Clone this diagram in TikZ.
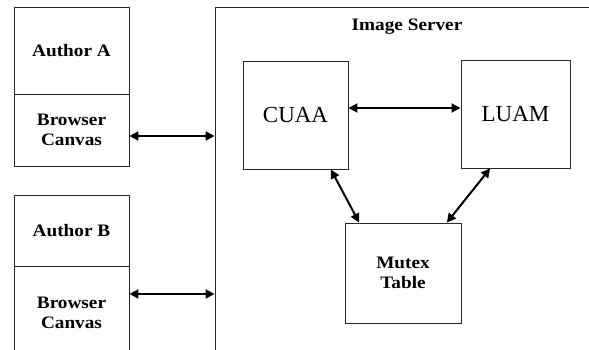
\documentclass[tikz,border=0pt]{standalone}
\usepackage{fontspec}
\setmainfont{Liberation Serif}
\newfontfamily\labfont[FakeStretch=1.1]{Liberation Serif}
\usetikzlibrary{arrows.meta}
\begin{document}
\begin{tikzpicture}[x=1pt,y=-1pt,
  box/.style={draw=black!85, line width=0.9pt, rectangle, inner sep=0pt, align=center},
  lab/.style={font=\labfont\bfseries\fontsize{17.5}{20}\selectfont, align=center},
  big/.style={font=\fontsize{23}{25}\selectfont},
  link/.style={line width=2pt, {Triangle[length=9pt,width=9pt]}-{Triangle[length=9pt,width=9pt]}}]
\useasboundingbox (0,0) rectangle (589,350);
\clip (0,0) rectangle (589,350);
% server
\node[box, minimum width=485pt, minimum height=443pt] (server) at (457.5,228.5) {};
\node[lab] (title) at (407,27) {Image Server};
% authors
\node[box, lab, minimum width=115pt, minimum height=87pt] (authorA) at (71.5,50.5) {Author A};
\node[box, lab, minimum width=115pt, minimum height=72pt] (canvasA) at (71.5,130) {Browser\\Canvas};
\node[box, lab, minimum width=115pt, minimum height=71pt] (authorB) at (71.5,230.5) {Author B};
\node[box, lab, minimum width=115pt, minimum height=94pt] (canvasB) at (71.5,313) {Browser\\Canvas};
% server components
\node[box, big, minimum width=105pt, minimum height=108pt] (CUAA) at (295.5,115) {CUAA};
\node[box, big, minimum width=109pt, minimum height=108pt] (LUAM) at (515.5,114) {LUAM};
\node[box, lab, minimum width=116pt, minimum height=100pt] (mutex) at (403,273) {Mutex\\Table};
% connectors
\draw[link] ([yshift=-6pt]canvasA.east) -- ([yshift=-6pt]canvasA.east -| server.west);
\draw[link] ([yshift=19pt]canvasB.east) -- ([yshift=19pt]canvasB.east -| server.west);
\draw[link] ([yshift=7pt]CUAA.east) -- ([yshift=7pt]CUAA.east -| LUAM.west);
\draw[link] (CUAA.-57) -- (mutex.131);
\draw[link] (LUAM.-115) -- (mutex.49);
\end{tikzpicture}
\end{document}
